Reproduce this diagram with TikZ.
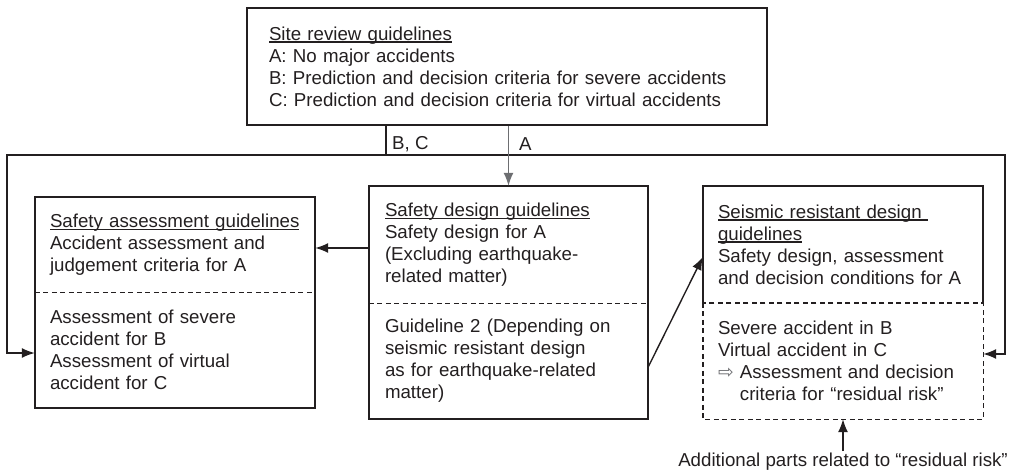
\documentclass[tikz,border=0pt]{standalone}
\usepackage{fontspec}
\setmainfont{Liberation Sans}
\newfontfamily\arrowfont{DejaVu Sans}
\usetikzlibrary{positioning,calc,arrows.meta}
\definecolor{ink}{HTML}{231F20}
\definecolor{agray}{HTML}{6D6E71}
\newcommand{\ulin}[1]{\leavevmode\setbox0\hbox{#1}\rlap{\rule[-2.5pt]{\wd0}{1.2pt}}\box0}
\newcommand{\hollowarrow}{{\arrowfont\color{agray}⇨}\ }
\tikzset{
  sec/.style={inner xsep=15pt, inner ysep=0pt, text width=250pt, align=left},
  boxline/.style={draw=ink, line width=1.7pt},
  conn/.style={draw=ink, line width=1.4pt},
  divider/.style={draw=ink, line width=1.4pt, dash pattern=on 5pt off 3.5pt},
  arr/.style={-{Latex[length=13pt,width=10pt]}},
}

\begin{document}
\begin{tikzpicture}[x=1pt,y=-1pt,every node/.style={text=ink,font=\fontsize{18.7}{22}\selectfont}]
\useasboundingbox (0,0) rectangle (1016,470);
\node[boxline,inner xsep=22pt,text width=476pt,minimum height=117pt,align=left] (site) at (507,66.5) {\ulin{Site review guidelines}\\A: No major accidents\\B: Prediction and decision criteria for severe accidents\\C: Prediction and decision criteria for virtual accidents};
% left column
\node[sec,minimum height=95pt] (assessA) at (175,244.5) {\ulin{Safety assessment guidelines}\\Accident assessment and\\judgement criteria for A};
\node[sec,minimum height=116pt] (assessB) at (175,350) {Assessment of severe\\accident for B\\Assessment of virtual\\accident for C};
\draw[boxline] (assessA.north west) rectangle (assessB.south east);
\draw[divider] (assessA.south west) -- (assessA.south east);
% middle column
\node[sec,inner xsep=16pt,text width=247pt,minimum height=117pt] (designA) at (508.5,244.5) {\ulin{Safety design guidelines}\\Safety design for A\\(Excluding earthquake-\\related matter)};
\node[sec,inner xsep=16pt,text width=247pt,minimum height=116pt] (designB) at (508.5,361) {Guideline 2 (Depending on\\seismic resistant design\\as for earthquake-related\\matter)};
\draw[boxline] (designA.north west) rectangle (designB.south east);
\draw[divider] (designA.south west) -- (designA.south east);
% right column
\node[sec,minimum height=117pt] (seisA) at (843,244.5) {\ulin{Seismic resistant design\ }\\\ulin{guidelines}\\Safety design, assessment\\and decision conditions for A};
\node[sec,minimum height=116pt] (seisB) at (843,361) {Severe accident in B\\Virtual accident in C\\\hollowarrow Assessment and decision\\\phantom{\hollowarrow}criteria for “residual risk”};
\draw[boxline] (seisA.south west) -- (seisA.north west) -- (seisA.north east) -- (seisA.south east);
\draw[divider] (seisB.north west) rectangle (seisB.south east);
\node[inner sep=2pt] (residual) at (843,462) {Additional parts related to “residual risk”};
% connectors
\coordinate (bcsplit) at (386,155);
\coordinate (leftturn) at (7,155);
\coordinate (rightturn) at (1005,155);
\draw[conn] (site.south -| bcsplit) -- (bcsplit);
\draw[conn,arr] (bcsplit) -- (leftturn) |- ([yshift=-3pt]assessB.west);
\draw[conn,arr] (bcsplit) -- (rightturn) |- ([yshift=7pt]seisB.east);
\draw[draw=agray,line width=1.4pt,arr] (site.south -| designA.north) -- (designA.north);
\node[anchor=west,inner sep=0pt] (bclabel) at (392,144) {B, C};
\node[anchor=west,inner sep=0pt] (alabel) at (519,144) {A};
\draw[conn,arr] ([yshift=-3.5pt]designA.west) -- ([yshift=-3.5pt]assessA.east);
\draw[conn,arr] ([yshift=-6pt]designB.east) -- ([yshift=-12.5pt]seisA.west);
\draw[conn,arr] (residual.north) -- (seisB.south);
\end{tikzpicture}
\end{document}
